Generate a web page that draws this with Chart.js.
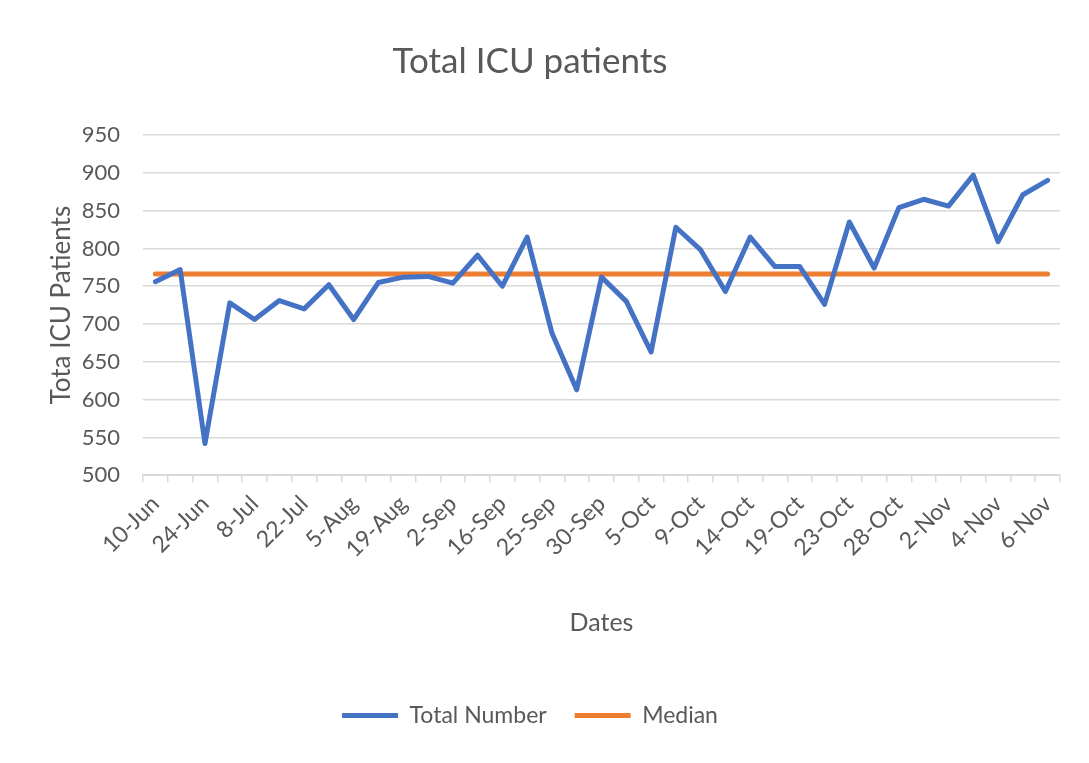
<!DOCTYPE html>
<html>
<head>
<meta charset="utf-8">
<title>Total ICU patients</title>
<script src="https://cdn.jsdelivr.net/npm/chart.js@4.4.0/dist/chart.umd.min.js"></script>
<style>
  body { margin: 0; background: #fff; }
  #wrap { width: 1089px; height: 763px; }
</style>
</head>
<body>
<div id="wrap"><canvas id="icuChart"></canvas></div>
<script>
// every other date is labelled on the axis, the rest stay blank
const dateLabels = ['10-Jun', '', '24-Jun', '', '8-Jul', '', '22-Jul', '', '5-Aug', '', '19-Aug', '', '2-Sep', '', '16-Sep', '', '25-Sep', '', '30-Sep', '', '5-Oct', '', '9-Oct', '', '14-Oct', '', '19-Oct', '', '23-Oct', '', '28-Oct', '', '2-Nov', '', '4-Nov', '', '6-Nov'];
const totalNumber = [756, 772, 542, 728, 706, 731, 720, 752, 706, 755, 762, 763, 754, 791, 750, 815, 688, 613, 762, 730, 663, 828, 798, 743, 815, 776, 776, 726, 835, 774, 854, 865, 856, 897, 809, 871, 890];
const medianValue = 766;
const yMin = 500;
const yMax = 950;
const yStep = 50;

const fontFamily = 'Lato, "Open Sans", sans-serif';
const textColor = '#595959';
const gridColor = '#d9d9d9';

function init() {
  const ctx = document.getElementById('icuChart').getContext('2d');
  new Chart(ctx, {
    type: 'line',
    data: {
      labels: dateLabels,
      datasets: [
        {label: 'Total Number', data: totalNumber, borderColor: '#4472C4', backgroundColor: '#4472C4', borderWidth: 5},
        {label: 'Median', data: dateLabels.map(() => medianValue), borderColor: '#ED7D31', backgroundColor: '#ED7D31', borderWidth: 5}
      ]
    },
    options: {
      responsive: true,
      maintainAspectRatio: false,
      animation: false,
      layout: {padding: {left: 0, right: 29, top: 0, bottom: 26}},
      elements: {point: {radius: 0}, line: {tension: 0, borderJoinStyle: 'round', borderCapStyle: 'round'}},
      plugins: {
        title: {display: true, text: 'Total ICU patients', color: textColor, font: {family: fontFamily, size: 35, weight: 'normal'}, padding: {top: 41, bottom: 52}},
        legend: {
          position: 'bottom',
          labels: {usePointStyle: true, pointStyle: 'line', pointStyleWidth: 56, color: textColor, font: {family: fontFamily, size: 23}, padding: 28}
        },
        tooltip: {enabled: false}
      },
      scales: {
        x: {
          offset: true,
          grid: {offset: true, drawOnChartArea: false, drawTicks: true, tickLength: 7, color: gridColor, lineWidth: 1.5},
          border: {color: gridColor, width: 2},
          ticks: {autoSkip: false, minRotation: 45, maxRotation: 45, color: textColor, font: {family: fontFamily, size: 23}, padding: 8},
          title: {display: true, text: 'Dates', color: textColor, font: {family: fontFamily, size: 25}, padding: {top: 37, bottom: 38}}
        },
        y: {
          min: yMin,
          max: yMax,
          afterFit: (scale) => { scale.width = 143; },
          grid: {color: gridColor, lineWidth: 1.5, drawTicks: false},
          border: {display: false},
          ticks: {stepSize: yStep, color: textColor, font: {family: fontFamily, size: 22}, padding: 23},
          title: {display: true, text: 'Tota ICU Patients', color: textColor, font: {family: fontFamily, size: 26}, padding: {top: 46, bottom: 0}}
        }
      }
    }
  });
}

window.addEventListener('DOMContentLoaded', init);
</script>
</body>
</html>
